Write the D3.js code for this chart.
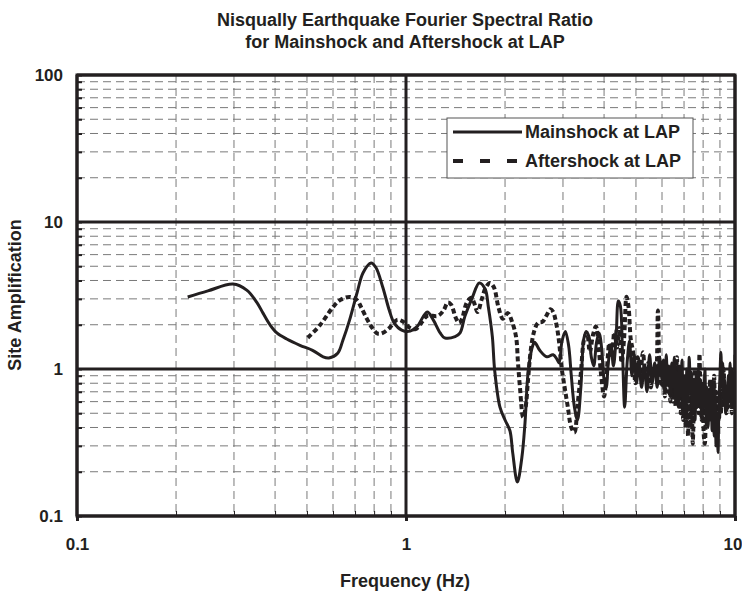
<!DOCTYPE html>
<html><head><meta charset="utf-8">
<script src="https://cdn.jsdelivr.net/npm/d3@7/dist/d3.min.js"></script>
<style>body{margin:0;background:#fff}text{font-family:"Liberation Sans",Arial,sans-serif;font-weight:bold;fill:#231f20}</style>
</head><body><svg id="c" width="742" height="595"></svg>
<script>
const mainFreq = [0.217,0.25,0.298,0.328,0.352,0.368,0.386,0.405,0.434,0.476,0.52,0.56,0.583,0.62,0.643,0.674,0.71,0.74,0.783,0.81,0.85,0.89,0.92,0.97,1.03,1.08,1.16,1.21,1.27,1.31,1.41,1.46,1.51,1.59,1.67,1.74,1.78,1.83,1.86,1.93,2.0,2.07,2.11,2.18,2.25,2.3,2.35,2.42,2.46,2.55,2.68,2.8,2.88,
  2.92,2.98,3.05,3.12,3.18,3.25,3.32,3.4,3.47,3.53,3.6,3.66,3.72,3.8,3.87,3.93,4.0,4.06,4.12,4.2,4.27,4.35,4.42,4.48,4.55,4.62,4.7,4.78,4.86,4.94,5.02,5.1,5.2,5.3,5.4,5.5,5.6,5.7,5.8,5.9,
  6.0,6.06,6.12,6.18,6.24,6.3,6.36,6.42,6.48,6.54,6.6,6.66,6.72,6.78,6.84,6.9,6.96,7.02,7.08,7.14,7.2,7.26,7.32,7.38,7.44,7.5,7.56,7.62,7.68,7.74,7.8,7.86,7.92,7.98,8.04,8.1,8.16,8.22,8.28,8.34,8.4,8.46,8.52,8.58,8.64,8.7,8.76,8.82,8.88,8.94,9.0,9.06,9.12,9.18,9.24,9.3,9.36,9.42,9.48,9.54,9.6,9.66,9.72,9.78,9.84,9.9,9.96,10.0];
const mainAmp = [3.09,3.4,3.78,3.44,2.84,2.39,2.0,1.76,1.6,1.45,1.34,1.21,1.19,1.28,1.57,2.16,3.3,4.5,5.26,4.9,3.6,2.5,2.06,1.84,1.81,1.94,2.44,2.16,1.76,1.63,1.66,1.76,2.28,3.05,3.85,3.5,2.63,1.66,0.98,0.55,0.45,0.38,0.27,0.17,0.25,0.43,0.94,1.41,1.52,1.34,1.21,1.25,1.16,
  1.1,1.55,1.8,1.45,0.9,0.55,0.45,0.75,1.6,1.8,1.65,1.2,1.05,1.55,1.75,1.4,0.85,0.75,1.1,1.45,1.05,1.6,2.9,2.7,1.3,0.55,1.1,1.55,0.9,1.25,0.8,1.15,0.75,1.05,0.7,1.25,0.8,1.1,0.75,1.2,
  0.85,1.15,0.7,1.25,0.8,1.05,0.65,1.1,0.75,1.2,0.6,0.95,0.55,1.05,0.65,1.15,0.55,0.9,0.5,1.0,0.6,1.2,0.7,0.95,0.5,0.85,0.45,0.9,0.55,1.0,0.6,0.85,0.45,0.8,0.55,1.0,0.5,0.75,0.4,0.7,0.45,0.8,0.38,0.65,0.35,0.6,0.3,0.5,0.27,0.6,0.9,1.3,0.8,1.1,0.6,0.85,0.5,0.75,0.55,0.9,0.6,1.1,0.7,1.0,0.6,0.9,0.55,1.25];
const afterFreq = [0.503,0.548,0.6,0.63,0.674,0.71,0.73,0.76,0.79,0.82,0.85,0.89,0.94,0.98,1.03,1.07,1.12,1.16,1.25,1.3,1.34,1.37,1.42,1.45,1.48,1.53,1.58,1.61,1.65,1.7,1.75,1.8,1.85,1.91,1.97,2.04,2.1,2.16,2.19,2.22,2.27,2.31,2.35,2.4,2.46,2.52,2.6,2.67,2.75,2.8,2.87,2.92,2.97,3.03,3.1,3.18,3.25,3.32,3.4,3.48,3.55,3.62,3.7,3.78,3.85,3.92,4.0,4.08,4.15,4.22,4.3,4.38,4.45,4.52,4.6,4.68,4.75,4.82,4.9,4.98,5.06,5.15,5.25,5.35,5.45,5.55,5.65,5.75,5.83,5.9,
  6.0,6.06,6.12,6.18,6.24,6.3,6.36,6.42,6.48,6.54,6.6,6.66,6.72,6.78,6.84,6.9,6.96,7.02,7.08,7.14,7.2,7.26,7.32,7.38,7.44,7.5,7.56,7.62,7.68,7.74,7.8,7.86,7.92,7.98,8.04,8.1,8.16,8.22,8.28,8.34,8.4,8.46,8.52,8.58,8.64,8.7,8.76,8.82,8.88,8.94,9.0,9.06,9.12,9.18,9.24,9.3,9.36,9.42,9.48,9.54,9.6,9.66,9.72,9.78,9.84,9.9,9.96,10.0];
const afterAmp = [1.63,1.99,2.64,2.94,3.09,2.94,2.64,2.2,1.9,1.74,1.76,1.9,2.16,2.1,1.9,1.87,2.1,2.3,2.3,2.5,2.83,2.75,2.2,2.06,2.2,2.83,3.05,2.83,2.44,3.0,3.6,3.85,3.6,2.63,2.2,2.4,2.1,1.66,1.1,0.75,0.47,0.55,0.85,1.4,1.85,2.06,2.1,2.3,2.55,2.45,1.97,1.52,1.03,0.77,0.56,0.4,0.37,0.56,0.94,1.6,1.75,1.3,1.7,1.95,1.4,0.9,0.65,1.0,1.5,1.2,1.8,1.4,1.9,1.1,1.6,3.1,2.6,1.6,1.3,0.8,1.2,0.9,1.3,0.85,1.1,0.75,1.05,0.9,2.5,1.0,
  0.75,1.05,0.65,1.1,0.7,0.95,0.6,1.0,0.6,0.9,0.55,1.2,0.65,0.9,0.5,0.85,0.45,0.8,0.4,0.9,0.35,0.7,0.4,0.65,0.31,0.6,1.0,0.55,0.8,0.5,1.27,0.6,0.45,0.8,0.35,0.31,0.6,0.4,0.75,0.45,0.85,0.5,0.8,0.45,0.9,0.5,0.7,0.4,0.65,0.45,0.7,0.5,0.85,0.55,1.0,0.6,0.8,0.5,0.75,0.55,0.9,0.6,0.85,0.5,0.7,0.55,0.8,0.7];
const xMajorTicks = [0.1,1,10];
const yMajorTicks = [0.1,1,10,100];
const xTickLabels = ["0.1","1","10"];
const yTickLabels = ["0.1","1","10","100"];
const seriesNames = ["Mainshock at LAP","Aftershock at LAP"];
const titleLines = ["Nisqually Earthquake Fourier Spectral Ratio","for Mainshock and Aftershock at LAP"];
const xTitle = "Frequency (Hz)", yTitle = "Site Amplification";

const L=77,R=735,T=75,B=516;
const svg=d3.select("#c");
const x=d3.scaleLog().domain([0.1,10]).range([L,R]);
const y=d3.scaleLog().domain([0.1,100]).range([B,T]);

function minors(lo,hi){const out=[];for(let d=lo;d<hi;d*=10)for(let k=2;k<=9;k++)out.push(d*k);return out;}
const xMinor=minors(0.1,10), yMinor=minors(0.1,100);

const g=svg.append("g");
g.selectAll(".vx").data(xMinor).join("line").attr("x1",d=>x(d)).attr("x2",d=>x(d)).attr("y1",T).attr("y2",B)
 .attr("stroke","#7a7a7a").attr("stroke-width",1).attr("stroke-dasharray","8,5");
g.selectAll(".hy").data(yMinor).join("line").attr("y1",d=>y(d)).attr("y2",d=>y(d)).attr("x1",L).attr("x2",R)
 .attr("stroke","#7a7a7a").attr("stroke-width",1).attr("stroke-dasharray","8,5");
g.selectAll(".mx").data(xMajorTicks).join("line").attr("x1",d=>x(d)).attr("x2",d=>x(d)).attr("y1",T).attr("y2",B)
 .attr("stroke","#231f20").attr("stroke-width",3);
g.selectAll(".my").data(yMajorTicks).join("line").attr("y1",d=>y(d)).attr("y2",d=>y(d)).attr("x1",L).attr("x2",R)
 .attr("stroke","#231f20").attr("stroke-width",3);

const bx=svg.append("g").attr("transform",`translate(0,${B})`).call(d3.axisTop(x).tickValues(xMinor).tickSize(5).tickFormat(""));
bx.select(".domain").remove(); bx.selectAll("line").attr("stroke","#231f20");
const bx2=svg.append("g").attr("transform",`translate(0,${B})`).call(d3.axisBottom(x).tickValues(xMajorTicks).tickSize(5).tickPadding(17).tickFormat((d,i)=>xTickLabels[i]));
bx2.select(".domain").remove(); bx2.selectAll("line").attr("stroke","#231f20").attr("stroke-width",3);
bx2.selectAll("text").attr("font-size",17).attr("font-family",null).attr("fill","#231f20")
  .attr("text-anchor",(d,i)=>i===xMajorTicks.length-1?"end":"middle")
  .attr("x",(d,i)=>i===xMajorTicks.length-1?7:0);
const ly=svg.append("g").attr("transform",`translate(${L},0)`).call(d3.axisRight(y).tickValues(yMinor.concat(yMajorTicks)).tickSize(5).tickFormat(""));
ly.select(".domain").remove(); ly.selectAll("line").attr("stroke","#231f20").attr("stroke-width",2);
const ly2=svg.append("g").attr("transform",`translate(${L},0)`).call(d3.axisLeft(y).tickValues(yMajorTicks).tickSize(0).tickPadding(14).tickFormat((d,i)=>yTickLabels[i]));
ly2.select(".domain").remove();
ly2.selectAll("text").attr("font-size",17).attr("font-family",null).attr("fill","#231f20");

svg.append("clipPath").attr("id","clip").append("rect").attr("x",L).attr("y",T).attr("width",R-L).attr("height",B-T);
const line=d3.line().x(d=>x(d[0])).y(d=>y(d[1])).curve(d3.curveCatmullRom.alpha(0.5));
const mainData=mainFreq.map((f,i)=>[f,mainAmp[i]]);
const afterData=afterFreq.map((f,i)=>[f,afterAmp[i]]);
const sg=svg.append("g").attr("clip-path","url(#clip)");
sg.append("path").datum(afterData).attr("d",line).attr("fill","none").attr("stroke","#231f20").attr("stroke-width",4).attr("stroke-dasharray","5,3");
sg.append("path").datum(mainData).attr("d",line).attr("fill","none").attr("stroke","#231f20").attr("stroke-width",3);

svg.append("rect").attr("x",L).attr("y",T).attr("width",R-L).attr("height",B-T).attr("fill","none").attr("stroke","#231f20").attr("stroke-width",3);

const lg=svg.append("g");
lg.append("rect").attr("x",447).attr("y",118).attr("width",246).attr("height",60).attr("fill","#fff").attr("stroke","#555").attr("stroke-width",1);
lg.append("line").attr("x1",453).attr("x2",522).attr("y1",132).attr("y2",132).attr("stroke","#231f20").attr("stroke-width",3);
lg.append("line").attr("x1",453).attr("x2",522).attr("y1",161).attr("y2",161).attr("stroke","#231f20").attr("stroke-width",4).attr("stroke-dasharray","10,17");
lg.selectAll("text.lt").data(seriesNames).join("text").attr("x",525).attr("y",(d,i)=>132+i*29).attr("dy","0.35em").attr("font-size",18).text(d=>d);

svg.selectAll("text.tt").data(titleLines).join("text").attr("x",405).attr("y",(d,i)=>26+i*22).attr("text-anchor","middle").attr("font-size",18).text(d=>d);
svg.append("text").attr("x",405).attr("y",587).attr("text-anchor","middle").attr("font-size",18).text(xTitle);
svg.append("text").attr("transform","translate(21,295) rotate(-90)").attr("text-anchor","middle").attr("font-size",18).text(yTitle);
</script></body></html>
